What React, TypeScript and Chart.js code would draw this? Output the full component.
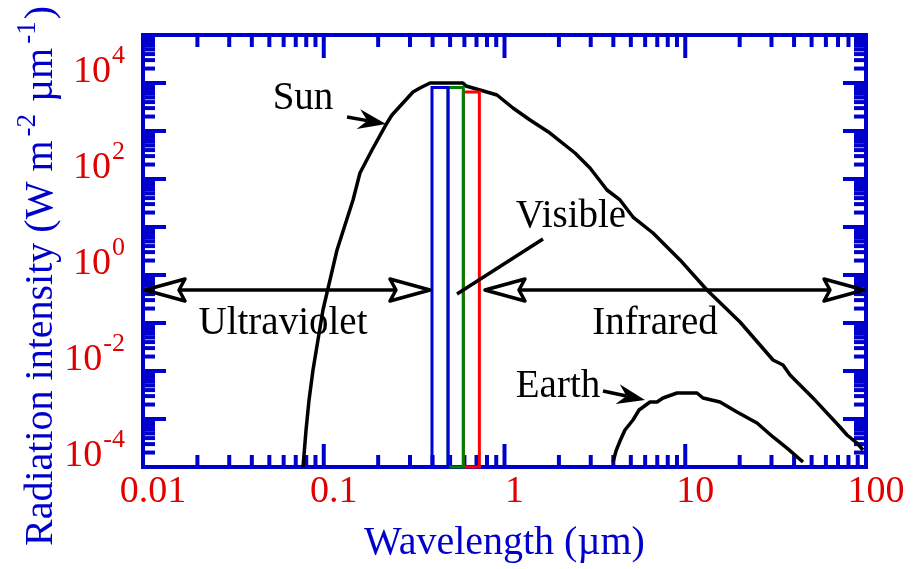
import React, { useEffect, useRef } from "react";
import { Chart, registerables } from "chart.js";

Chart.register(...registerables);

// ---------------- data ----------------
const sunWavelength = [
  0.0768, 0.0798, 0.0829, 0.0872, 0.0929, 0.099, 0.1083, 0.1184, 0.1311, 0.1452,
  0.1586, 0.1849, 0.2238, 0.2385, 0.3118, 0.3407, 0.3872, 0.5893, 0.6124, 0.7316,
  0.9088, 1.114, 1.384, 1.785, 2.455, 2.972, 3.69, 4.355, 5.138, 6.631,
  7.925, 9.354, 13.19, 20.09, 30.59, 34.74, 37.98, 52.22, 71.8, 78.52,
  89.19, 96.25,
];
const sunIntensity = [
  5.0e-5, 2.95e-4, 1.24e-3, 5.25e-3, 0.0221, 0.0933, 0.394, 1.66, 5.5, 18.3,
  66.7, 201, 735, 1077, 3248, 3935, 5000, 5000, 4330, 3573,
  2812, 1507, 848, 454, 174, 84.8, 29.5, 18.3, 8.07, 3.75,
  1.92, 1.03, 0.2435, 0.0525, 8.48e-3, 6.67e-3, 4.13e-3, 1.24e-3, 3.41e-4, 2.32e-4,
  1.58e-4, 1.13e-4,
];

const earthWavelength = [
  3.985, 4.14, 4.355, 4.64, 5.138, 5.55, 6.383, 6.98, 7.533, 9.004,
  11.61, 12.54, 15.57, 19.33, 24.95, 30.59, 36.56, 44.83,
];
const earthIntensity = [
  6.35e-5, 1.08e-4, 1.74e-4, 2.95e-4, 4.77e-4, 7.7e-4, 1.13e-3, 1.13e-3, 1.37e-3, 1.74e-3,
  1.74e-3, 1.37e-3, 1.13e-3, 7.0e-4, 4.13e-4, 2.11e-4, 1.24e-4, 6.35e-5,
];

// visible band boxes (blue, green, red)
const bandColors = ["#0000dd", "#008000", "#ff0000"];
const bandStart = [0.397, 0.487, 0.592];
const bandEnd = [0.487, 0.592, 0.726];
const bandTop = [4030, 4030, 3250];

// axes
const xMin = 0.01;
const xMax = 100;
const yMin = 5e-5;
const yMax = 5e4;
const xTickValues = [0.01, 0.1, 1, 10, 100];
const xTickLabels = ["0.01", "0.1", "1", "10", "100"];
const yTickValues = [1e-4, 1e-2, 1, 1e2, 1e4];
const yTickBases = ["10", "10", "10", "10", "10"];
const yTickExponents = ["-4", "-2", "0", "2", "4"];

// annotations
const labelTexts = ["Sun", "Earth", "Visible", "Ultraviolet", "Infrared"];
const labelX = [0.0768, 1.977, 2.333, 0.0595, 6.8];
const labelY = [1437, 1.44e-3, 5.0, 0.0295, 0.0295];

const rangeArrowY = 0.2435;
const uvRange = [0.01, 0.397];
const irRange = [0.76, 100];
const sunArrowX = [0.1345, 0.2211];
const sunArrowY = [979, 700];
const earthArrowX = [3.508, 5.988];
const earthArrowY = [1.92e-3, 1.24e-3];
const visibleLineX = [1.633, 0.546];
const visibleLineY = [2.81, 0.201];

const xTitle = "Wavelength (\u00b5m)";
const yTitleParts = ["Radiation intensity (W m", "-2", " \u00b5m", "-1", ")"];
const yTitleSup = [false, true, false, true, false];

// ---------------- styles ----------------
const FONT = '"Liberation Serif", "Times New Roman", Times, serif';
const AXIS_BLUE = "#0000cc";
const LABEL_RED = "#e00000";

function headOpen(ctx: CanvasRenderingContext2D, tx: number, ty: number, dx: number, dy: number) {
  const len = 40, half = 11, notch = 6;
  const nx = -dy, ny = dx;
  const bx = tx - dx * len, by = ty - dy * len;
  ctx.beginPath();
  ctx.moveTo(tx, ty);
  ctx.lineTo(bx + nx * half, by + ny * half);
  ctx.lineTo(tx - dx * (len - notch), ty - dy * (len - notch));
  ctx.lineTo(bx - nx * half, by - ny * half);
  ctx.closePath();
  ctx.stroke();
  return [tx - dx * (len - notch), ty - dy * (len - notch)];
}

function headSolid(ctx: CanvasRenderingContext2D, tx: number, ty: number, dx: number, dy: number) {
  const len = 28, half = 10, notch = 9;
  const nx = -dy, ny = dx;
  const bx = tx - dx * len, by = ty - dy * len;
  ctx.beginPath();
  ctx.moveTo(tx, ty);
  ctx.lineTo(bx + nx * half, by + ny * half);
  ctx.lineTo(tx - dx * (len - notch), ty - dy * (len - notch));
  ctx.lineTo(bx - nx * half, by - ny * half);
  ctx.closePath();
  ctx.fill();
  return [tx - dx * (len - notch), ty - dy * (len - notch)];
}

const idlPlugin = {
  id: "idlStyle",
  beforeDatasetsDraw(chart: any) {
    const { ctx, chartArea: a, scales } = chart;
    const xs = scales.x, ys = scales.y;
    ctx.save();
    ctx.strokeStyle = AXIS_BLUE;
    ctx.lineWidth = 4;
    ctx.lineCap = "butt";
    const seg = (x1: number, y1: number, x2: number, y2: number) => {
      ctx.beginPath();
      ctx.moveTo(x1, y1);
      ctx.lineTo(x2, y2);
      ctx.stroke();
    };
    const major = 23, minor = 12;
    // x ticks
    for (let k = -2; k <= 2; k++) {
      const v = Math.pow(10, k);
      const px = xs.getPixelForValue(v);
      seg(px, a.bottom, px, a.bottom - major);
      seg(px, a.top, px, a.top + major);
      if (k < 2) {
        for (let m = 2; m <= 9; m++) {
          const p = xs.getPixelForValue(m * v);
          seg(p, a.bottom, p, a.bottom - minor);
          seg(p, a.top, p, a.top + minor);
        }
      }
    }
    // y ticks (major at 5 x 10^k)
    for (let k = -5; k <= 4; k++) {
      const v = 5 * Math.pow(10, k);
      const py = ys.getPixelForValue(v);
      seg(a.left, py, a.left + major, py);
      seg(a.right, py, a.right - major, py);
      if (k < 4) {
        for (let m = 2; m <= 9; m++) {
          const p = ys.getPixelForValue(m * v);
          seg(a.left, p, a.left + minor, p);
          seg(a.right, p, a.right - minor, p);
        }
      }
    }
    ctx.strokeRect(a.left, a.top, a.right - a.left, a.bottom - a.top);
    ctx.restore();
  },
  afterDatasetsDraw(chart: any) {
    const { ctx, scales } = chart;
    const xs = scales.x, ys = scales.y;
    const X = (v: number) => xs.getPixelForValue(v);
    const Y = (v: number) => ys.getPixelForValue(v);
    ctx.save();

    // y tick labels with superscripts
    for (let i = 0; i < yTickValues.length; i++) {
      const py = Y(yTickValues[i]);
      ctx.fillStyle = LABEL_RED;
      ctx.textBaseline = "alphabetic";
      ctx.textAlign = "left";
      ctx.font = `26px ${FONT}`;
      const ew = ctx.measureText(yTickExponents[i]).width;
      ctx.font = `38px ${FONT}`;
      const bw = ctx.measureText(yTickBases[i]).width;
      const right = 125;
      const x0 = right - ew - bw - 1;
      ctx.fillText(yTickBases[i], x0, py + 13);
      ctx.font = `26px ${FONT}`;
      ctx.fillText(yTickExponents[i], x0 + bw + 1, py - 6);
    }

    // y title rotated
    ctx.save();
    ctx.fillStyle = AXIS_BLUE;
    ctx.translate(52, 276);
    ctx.rotate(-Math.PI / 2);
    ctx.textBaseline = "alphabetic";
    ctx.textAlign = "left";
    let total = 0;
    const widths: number[] = [];
    for (let i = 0; i < yTitleParts.length; i++) {
      ctx.font = yTitleSup[i] ? `27px ${FONT}` : `40px ${FONT}`;
      const w = ctx.measureText(yTitleParts[i]).width + (yTitleSup[i] ? 6 : 0);
      widths.push(w);
      total += w;
    }
    let cx = -total / 2;
    for (let i = 0; i < yTitleParts.length; i++) {
      ctx.font = yTitleSup[i] ? `27px ${FONT}` : `40px ${FONT}`;
      ctx.fillText(yTitleParts[i], cx + (yTitleSup[i] ? 4 : 0), yTitleSup[i] ? -17 : 0);
      cx += widths[i];
    }
    ctx.restore();

    // annotation texts
    ctx.fillStyle = "#000";
    ctx.font = `39px ${FONT}`;
    ctx.textAlign = "center";
    ctx.textBaseline = "alphabetic";
    for (let i = 0; i < labelTexts.length; i++) {
      ctx.fillText(labelTexts[i], X(labelX[i]), Y(labelY[i]));
    }

    // range arrows (open heads)
    ctx.strokeStyle = "#000";
    ctx.fillStyle = "#000";
    ctx.lineWidth = 3.5;
    ctx.lineJoin = "round";
    const ay = Y(rangeArrowY);
    for (const r of [uvRange, irRange]) {
      const l = X(r[0]) + 2, rr = X(r[1]) - 2;
      const n1 = headOpen(ctx, l, ay, -1, 0);
      const n2 = headOpen(ctx, rr, ay, 1, 0);
      ctx.beginPath();
      ctx.moveTo(n1[0], ay);
      ctx.lineTo(n2[0], ay);
      ctx.stroke();
    }

    // solid arrows
    ctx.lineWidth = 3.5;
    ctx.lineCap = "butt";
    const solid = (xa: number[], ya: number[]) => {
      const x1 = X(xa[0]), y1 = Y(ya[0]), x2 = X(xa[1]), y2 = Y(ya[1]);
      const L = Math.hypot(x2 - x1, y2 - y1);
      const dx = (x2 - x1) / L, dy = (y2 - y1) / L;
      const n = headSolid(ctx, x2, y2, dx, dy);
      ctx.beginPath();
      ctx.moveTo(x1, y1);
      ctx.lineTo(n[0], n[1]);
      ctx.stroke();
    };
    solid(sunArrowX, sunArrowY);
    solid(earthArrowX, earthArrowY);

    // visible pointer line
    ctx.beginPath();
    ctx.moveTo(X(visibleLineX[0]), Y(visibleLineY[0]));
    ctx.lineTo(X(visibleLineX[1]), Y(visibleLineY[1]));
    ctx.stroke();

    ctx.restore();
  },
};

export default function App() {
  const ref = useRef<HTMLCanvasElement | null>(null);

  useEffect(() => {
    if (!ref.current) return;
    const bandSets = bandColors.map((c, i) => ({
      label: "band" + i,
      data: [
        { x: bandStart[i], y: yMin },
        { x: bandStart[i], y: bandTop[i] },
        { x: bandEnd[i], y: bandTop[i] },
        { x: bandEnd[i], y: yMin },
        { x: bandStart[i], y: yMin },
      ],
      borderColor: c,
      borderWidth: 3,
      pointRadius: 0,
      fill: false,
      tension: 0,
      clip: false as any,
    }));
    const chart = new Chart(ref.current, {
      type: "line",
      data: {
        datasets: [
          ...bandSets,
          {
            label: "Sun",
            data: sunWavelength.map((x, i) => ({ x, y: sunIntensity[i] })),
            borderColor: "#000",
            borderWidth: 3.5,
            borderJoinStyle: "round",
            pointRadius: 0,
            fill: false,
            tension: 0,
          },
          {
            label: "Earth",
            data: earthWavelength.map((x, i) => ({ x, y: earthIntensity[i] })),
            borderColor: "#000",
            borderWidth: 3.5,
            borderJoinStyle: "round",
            pointRadius: 0,
            fill: false,
            tension: 0,
          },
        ],
      },
      options: {
        animation: false,
        responsive: true,
        maintainAspectRatio: false,
        devicePixelRatio: 1,
        layout: { padding: { left: 0, right: 47, top: 35, bottom: 0 } },
        plugins: {
          legend: { display: false },
          tooltip: { enabled: false },
        },
        scales: {
          x: {
            type: "logarithmic",
            min: xMin,
            max: xMax,
            position: "bottom",
            grid: { display: false, drawTicks: false },
            border: { display: false },
            afterBuildTicks: (s: any) => {
              s.ticks = xTickValues.map((v) => ({ value: v }));
            },
            afterFit: (s: any) => {
              s.height = 102;
            },
            ticks: {
              color: LABEL_RED,
              font: { family: FONT, size: 38 },
              padding: 2,
              labelOffset: 10,
              maxRotation: 0,
              autoSkip: false,
              callback: (v: any) => {
                const i = xTickValues.findIndex((t) => Math.abs(Math.log10(t) - Math.log10(Number(v))) < 1e-6);
                return i >= 0 ? xTickLabels[i] : "";
              },
            },
            title: {
              display: true,
              text: xTitle,
              color: AXIS_BLUE,
              font: { family: FONT, size: 40 },
              padding: { top: 0, bottom: 2 },
            },
          },
          y: {
            type: "logarithmic",
            min: yMin,
            max: yMax,
            grid: { display: false, drawTicks: false },
            border: { display: false },
            ticks: { display: false },
            afterBuildTicks: (s: any) => {
              s.ticks = yTickValues.map((v) => ({ value: v }));
            },
            afterFit: (s: any) => {
              s.width = 143;
            },
          },
        },
      } as any,
      plugins: [idlPlugin as any],
    });
    return () => chart.destroy();
  }, []);

  return (
    <div style={{ position: "fixed", left: 0, top: 0, width: 913, height: 569, background: "#fff" }}>
      <canvas ref={ref} />
    </div>
  );
}
